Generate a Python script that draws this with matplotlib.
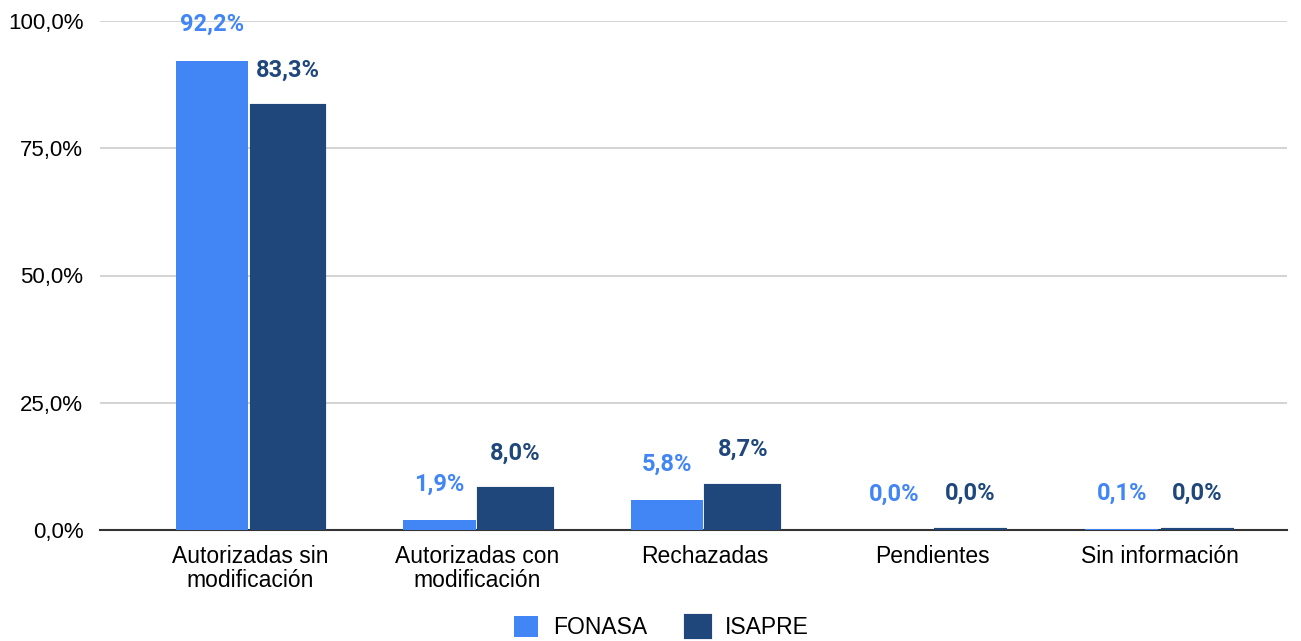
import numpy as np
import matplotlib
matplotlib.use("Agg")
import matplotlib.pyplot as plt
from matplotlib.ticker import FuncFormatter

plt.rcParams['font.family'] = ['Liberation Sans', 'DejaVu Sans']

categories = ["Autorizadas sin\nmodificación", "Autorizadas con\nmodificación",
              "Rechazadas", "Pendientes", "Sin información"]
fonasa = [92.2, 1.9, 5.8, 0.0, 0.1]
isapre = [83.3, 8.0, 8.7, 0.04, 0.04]
series_names = ["FONASA", "ISAPRE"]

c_fonasa = "#4285F4"
c_isapre = "#1F477C"

fig = plt.figure(figsize=(13.01, 6.41), dpi=100)
ax = fig.add_axes([100 / 1301, 1 - 530 / 641, 1187 / 1301, 509 / 641])

x = np.arange(len(categories))
w = 0.32
gap = 0.007
b1 = ax.bar(x - w / 2 - gap, fonasa, w, color=c_fonasa, label=series_names[0], zorder=3)
b2 = ax.bar(x + w / 2 + gap, isapre, w, color=c_isapre, label=series_names[1], zorder=3,
            edgecolor=c_isapre, linewidth=3)

def fmt(v):
    return f"{v:.1f}".replace(".", ",") + "%"

for bars, vals, col in [(b1, fonasa, c_fonasa), (b2, isapre, c_isapre)]:
    for b, v in zip(bars, vals):
        ax.annotate(fmt(v), (b.get_x() + b.get_width() / 2, v), xytext=(0, 26),
                    textcoords="offset points", ha="center", va="center",
                    fontsize=17, fontweight="bold", color=col, family="Roboto")

ax.set_xlim(-0.66, 4.56)
ax.set_ylim(0, 100)
ax.set_yticks([0, 25, 50, 75, 100])
ax.yaxis.set_major_formatter(FuncFormatter(lambda v, p: fmt(v)))
ax.set_xticks(x)
ax.set_xticklabels(categories, fontsize=16.5, linespacing=1.05)
ax.tick_params(axis="y", labelsize=16, length=0, pad=12)
ax.tick_params(axis="x", length=0, pad=11)
ax.grid(axis="y", color="#CCCCCC", linewidth=1.2, zorder=0)
for s in ["top", "right", "left"]:
    ax.spines[s].set_visible(False)
ax.spines["bottom"].set_color("#333333")
ax.spines["bottom"].set_linewidth(1.5)
ax.spines["bottom"].set_zorder(2.5)

ax.legend(loc="center", bbox_to_anchor=(0.473, -0.192), ncol=2, frameon=False,
          fontsize=16.5, handlelength=1.05, handleheight=1.05, columnspacing=1.7,
          handletextpad=0.65)

fig.savefig("out.png", dpi=100)
